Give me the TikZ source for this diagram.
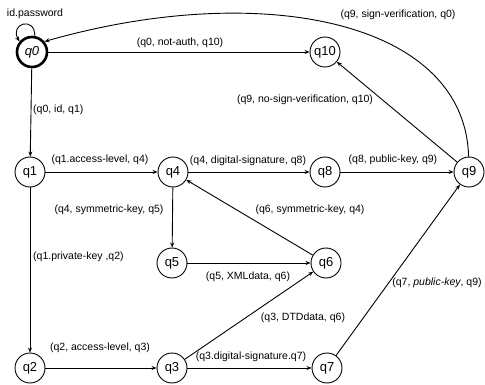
\documentclass[tikz,border=0pt]{standalone}
\usepackage{fontspec}
\setmainfont{Liberation Sans}
\usetikzlibrary{arrows.meta}
\begin{document}
\begin{tikzpicture}[x=1pt,y=-1pt,
  state/.style={circle,draw,line width=0.9pt,minimum size=30pt,inner sep=0pt,font=\fontsize{13}{14}\selectfont},
  lbl/.style={inner sep=0pt,font=\fontsize{10.5}{12}\selectfont},
  tr/.style={line width=0.9pt,-{Stealth[length=5pt,width=4pt]}}]
\useasboundingbox (0,0) rectangle (485,385);
\node[state,line width=2.6pt] (q0) at (32,52) {\itshape q0};
\node[state] (q10) at (325,52) {q10};
\node[state] (q1) at (30,172) {q1};
\node[state] (q4) at (173,172) {q4};
\node[state] (q8) at (325,172) {q8};
\node[state] (q9) at (469,172) {q9};
\node[state] (q5) at (172,263) {q5};
\node[state] (q6) at (326,263) {q6};
\node[state] (q2) at (30,368) {q2};
\node[state] (q3) at (172,368) {q3};
\node[state] (q7) at (327,368) {q7};

\draw[tr] (q0.80) to[out=90,in=120,looseness=3.2] (q0.140);
\draw[tr] (q0) -- (q10);
\draw[tr] (q0) -- (q1);
\draw[tr] (q9) .. controls (465,20) and (260,-20) .. (q0.40);
\draw[tr] (q9) -- (q10);
\draw[tr] (q1) -- (q4);
\draw[tr] (q4) -- (q8);
\draw[tr] (q8) -- (q9);
\draw[tr] (q4) -- (q5);
\draw[tr] (q6) -- (q4);
\draw[tr] (q1) -- (q2);
\draw[tr] (q5) -- (q6);
\draw[tr] (q2) -- (q3);
\draw[tr] (q3) -- (q6);
\draw[tr] (q3) -- (q7);
\draw[tr] (q7) -- (q9);

\node[lbl] (l00) at (35,14) {id.password};
\node[lbl] (l010) at (180,43) {(q0, not-auth, q10)};
\node[lbl,anchor=west] (l01) at (33,110) {(q0, id, q1)};
\node[lbl] (l90) at (398,15) {(q9, sign-verification, q0)};
\node[lbl] (l910) at (305,100) {(q9, no-sign-verification, q10)};
\node[lbl] (l14) at (100,160) {(q1.access-level, q4)};
\node[lbl] (l48) at (248,161) {(q4, digital-signature, q8)};
\node[lbl] (l89) at (393,160) {(q8, public-key, q9)};
\node[lbl] (l45) at (109,210) {(q4, symmetric-key, q5)};
\node[lbl] (l64) at (310,210) {(q6, symmetric-key, q4)};
\node[lbl,anchor=west] (l12) at (33,257) {(q1.private-key ,q2)};
\node[lbl] (l56) at (248,277) {(q5, XMLdata, q6)};
\node[lbl] (l23) at (100,348) {(q2, access-level, q3)};
\node[lbl] (l36) at (303,318) {(q3, DTDdata, q6)};
\node[lbl] (l37) at (251,357) {(q3.digital-signature.q7)};
\node[lbl] (l79) at (437,283) {(q7, \textit{public-key}, q9)};
\end{tikzpicture}
\end{document}
